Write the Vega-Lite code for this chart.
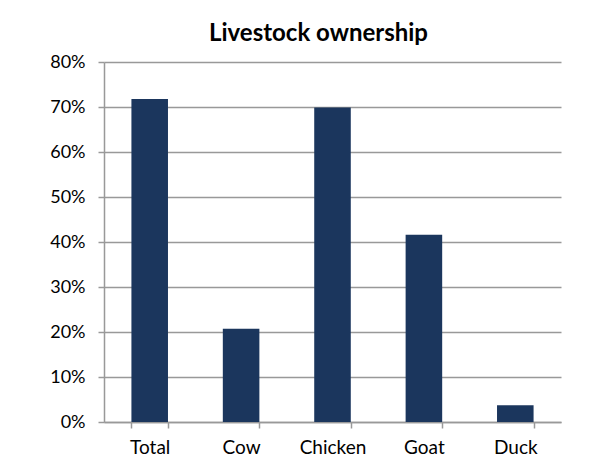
{
  "$schema": "https://vega.github.io/schema/vega-lite/v6.json",
  "width": 457,
  "height": 360,
  "autosize": {"type": "none"},
  "padding": {"left": 104, "top": 62, "right": 48, "bottom": 41},
  "background": "white",
  "title": {
    "text": "Livestock ownership",
    "font": "Lato",
    "fontSize": 24,
    "fontWeight": "bold",
    "color": "#000000",
    "anchor": "middle",
    "dx": -14,
    "baseline": "alphabetic",
    "offset": -12
  },
  "data": {
    "values": [
      {"animal": "Total", "share": 0.718},
      {"animal": "Cow", "share": 0.207},
      {"animal": "Chicken", "share": 0.699},
      {"animal": "Goat", "share": 0.416},
      {"animal": "Duck", "share": 0.037}
    ]
  },
  "mark": {"type": "bar", "color": "#1b365d"},
  "encoding": {
    "x": {
      "field": "animal",
      "type": "nominal",
      "sort": null,
      "title": null,
      "scale": {"paddingInner": 0.6, "paddingOuter": 0.3},
      "axis": {
        "labelAngle": 0,
        "labelFont": "Lato",
        "labelFontSize": 19,
        "labelColor": "#000000",
        "labelPadding": 10,
        "tickBand": "extent",
        "tickSize": 6,
        "tickColor": "#999999",
        "tickWidth": 1.5,
        "domainColor": "#999999",
        "domainWidth": 1.5,
        "grid": false
      }
    },
    "y": {
      "field": "share",
      "type": "quantitative",
      "title": null,
      "scale": {"domain": [0, 0.8], "nice": false},
      "axis": {
        "values": [0, 0.1, 0.2, 0.3, 0.4, 0.5, 0.6, 0.7, 0.8],
        "format": ".0%",
        "labelFont": "Lato",
        "labelFontSize": 18,
        "labelColor": "#000000",
        "labelPadding": 13,
        "tickSize": 6,
        "tickColor": "#999999",
        "tickWidth": 1.5,
        "domainColor": "#999999",
        "domainWidth": 1.5,
        "grid": true,
        "gridColor": "#999999",
        "gridWidth": 1.5
      }
    }
  },
  "config": {"view": {"stroke": null}}
}
